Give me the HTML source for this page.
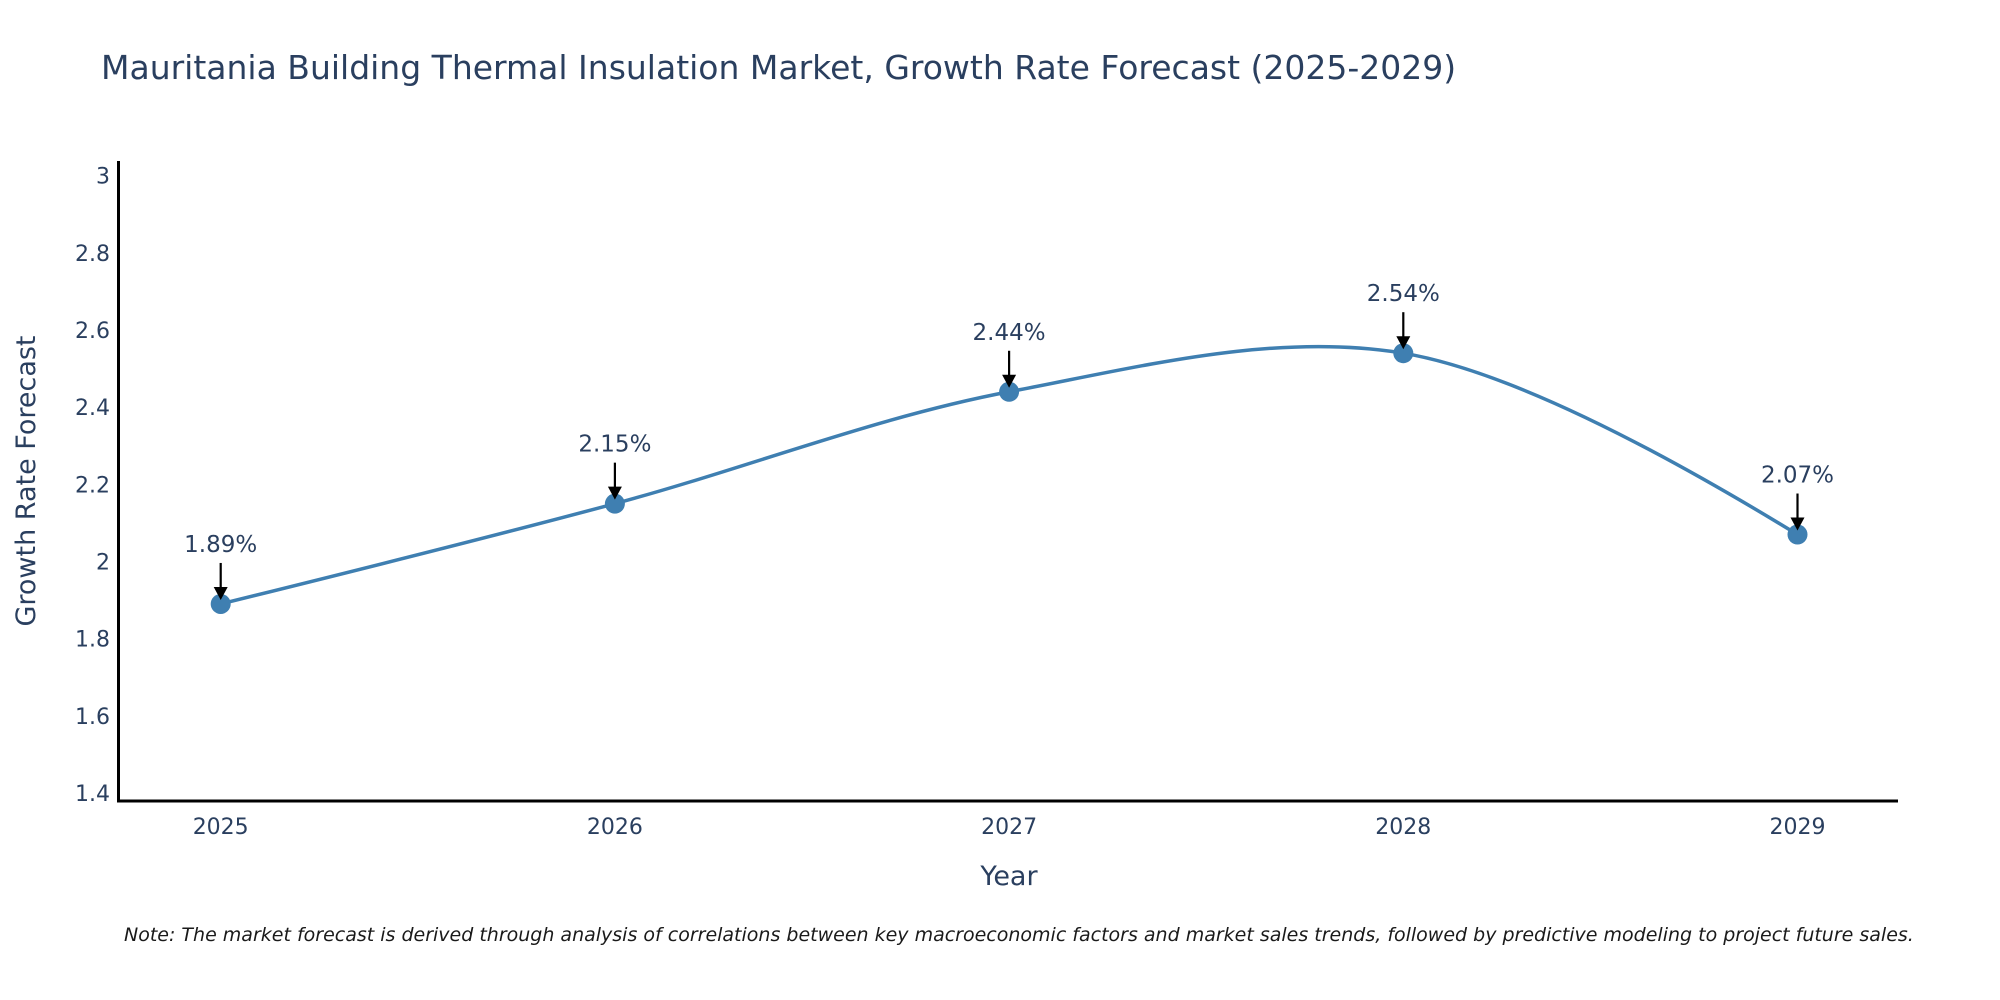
<!DOCTYPE html>
<html><head><meta charset="utf-8"><style>
body{margin:0;background:#fff;}
svg{display:block;font-family:"DejaVu Sans","Liberation Sans",sans-serif;}
</style></head><body>
<svg width="2000" height="1000" viewBox="0 0 2000 1000">
<text x="101" y="79" font-size="33" fill="#2a3f5f">Mauritania Building Thermal Insulation Market, Growth Rate Forecast (2025-2029)</text>
<g id="yticks"></g>
<g id="xticks"></g>
<line x1="118.5" y1="161" x2="118.5" y2="802" stroke="#000" stroke-width="3"/>
<line x1="117" y1="801" x2="1898" y2="801" stroke="#000" stroke-width="3"/>
<text transform="translate(35,481) rotate(-90)" text-anchor="middle" font-size="27" fill="#2a3f5f">Growth Rate Forecast</text>
<text x="1009" y="885" text-anchor="middle" font-size="27" fill="#2a3f5f">Year</text>
<path id="line" fill="none" stroke="#3f7fb1" stroke-width="3.5"/>
<g id="marks"></g>
<text x="124" y="941" font-size="19" font-style="italic" fill="#1a1a1a">Note: The market forecast is derived through analysis of correlations between key macroeconomic factors and market sales trends, followed by predictive modeling to project future sales.</text>
</svg>
<script>
const years = [2025, 2026, 2027, 2028, 2029];
const values = [1.89, 2.15, 2.44, 2.54, 2.07];
const labels = ["1.89%", "2.15%", "2.44%", "2.54%", "2.07%"];
const yTicks = [1.4, 1.6, 1.8, 2, 2.2, 2.4, 2.6, 2.8, 3];

const NS = "http://www.w3.org/2000/svg";
function xs(v){ return 220.7 + (v - 2025) * 394.2; }
function ys(v){ return 793 - (v - 1.4) * 385.8; }
function mk(tag, attrs, parent){ const e=document.createElementNS(NS,tag); for(const k in attrs) e.setAttribute(k,attrs[k]); parent.appendChild(e); return e; }

const yg=document.getElementById('yticks');
yTicks.forEach(t=>{
  const e=mk('text',{x:110,y:ys(t)+8,'text-anchor':'end','font-size':22,fill:'#2a3f5f'},yg);
  
  
  e.textContent=String(t);
});
const xg=document.getElementById('xticks');
years.forEach(y=>{
  const e=mk('text',{x:xs(y),y:834,'text-anchor':'middle','font-size':22,fill:'#2a3f5f'},xg);
  
  
  e.textContent=String(y);
});

const pts=years.map((y,i)=>[xs(y),ys(values[i])]);
function tangent(p,t,n,s){
  const d1x=p[0]-t[0],d1y=p[1]-t[1],d2x=n[0]-t[0],d2y=n[1]-t[1];
  const d1a=Math.pow(d1x*d1x+d1y*d1y,0.25),d2a=Math.pow(d2x*d2x+d2y*d2y,0.25);
  const nx=(d2a*d2a*d1x-d1a*d1a*d2x)*s,ny=(d2a*d2a*d1y-d1a*d1a*d2y)*s;
  const den1=3*d2a*(d1a+d2a),den2=3*d1a*(d1a+d2a);
  return [[t[0]+nx/den1,t[1]+ny/den1],[t[0]-nx/den2,t[1]-ny/den2]];
}
const tg=[];
for(let i=1;i<pts.length-1;i++) tg.push(tangent(pts[i-1],pts[i],pts[i+1],1));
let d='M'+pts[0]+' Q'+tg[0][0]+' '+pts[1];
for(let i=1;i<pts.length-2;i++) d+=' C'+tg[i-1][1]+' '+tg[i][0]+' '+pts[i+1];
d+=' Q'+tg[tg.length-1][1]+' '+pts[pts.length-1];
document.getElementById('line').setAttribute('d',d);

const mg=document.getElementById('marks');
pts.forEach((p,i)=>{
  const c=mk('circle',{cx:p[0],cy:p[1],r:10,fill:'#3f7fb1'},mg);
  
  
  const l=mk('line',{x1:p[0],y1:p[1]-41,x2:p[0],y2:p[1]-14,stroke:'#000','stroke-width':2.2},mg);
  
  
  const a=mk('polygon',{points:`${p[0]-7},${p[1]-17} ${p[0]+7},${p[1]-17} ${p[0]},${p[1]-4}`,fill:'#000'},mg);
  
  
  const t=mk('text',{x:p[0],y:p[1]-52,'text-anchor':'middle','font-size':23,fill:'#2a3f5f'},mg);
  
  
  t.textContent=labels[i];
});
</script>
</body></html>
